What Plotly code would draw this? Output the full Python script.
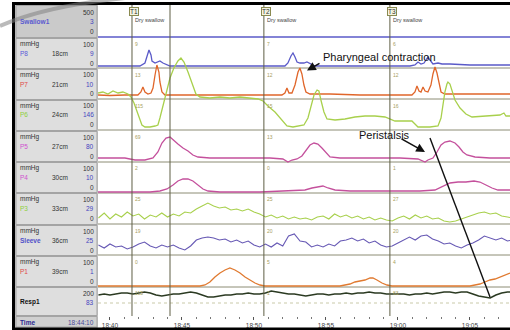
import numpy as np
import pandas as pd
import plotly.graph_objects as go

# ---------------- data: time in seconds (18:40 = 1120 s), pressure in mmHg ----------------
T_SW = [1119.17, 1147.78]
SWALLOW1 = [0, 0]

T_P8 = [1119.17, 1122.08, 1122.43, 1122.57, 1122.71, 1122.85, 1122.92, 1123.13, 1123.33, 1123.47,
        1123.68, 1123.96, 1124.17, 1132.15, 1132.36, 1132.57, 1132.71, 1132.85, 1132.99, 1133.19,
        1133.47, 1133.68, 1133.96, 1134.24, 1140.83, 1141.18, 1141.39, 1141.60, 1141.81, 1141.94,
        1142.08, 1142.22, 1142.43, 1142.78, 1143.06, 1143.61, 1145.00, 1147.78]
P8 = [0, 0, 12, 40, 64, 44, 20, 12, 16, 20, 12, 4, 0, 0, 12, 40, 52, 36, 16, 12,
      12, 16, 8, 0, 0, 4, 16, 8, 12, 24, 36, 24, 8, 12, 8, 8, 4, 4]

T_P7 = [1119.17, 1120.00, 1121.04, 1121.94, 1122.15, 1122.29, 1122.43, 1122.64, 1122.85, 1122.99,
        1123.13, 1123.26, 1123.40, 1123.47, 1123.61, 1123.82, 1124.51, 1126.25, 1128.33, 1130.42,
        1131.94, 1132.15, 1132.29, 1132.43, 1132.64, 1132.85, 1133.06, 1133.19, 1133.33, 1133.47,
        1133.61, 1133.89, 1135.28, 1137.36, 1139.44, 1140.97, 1141.18, 1141.32, 1141.46, 1141.60,
        1141.74, 1141.88, 1142.08, 1142.29, 1142.43, 1142.57, 1142.71, 1142.85, 1142.99, 1143.26,
        1145.69, 1147.78]
P7 = [4, 2, 4, 4, 16, 36, 16, 8, 12, 32, 84, 124, 96, 56, 16, 4, 4, 4, 2, 4,
      4, 12, 32, 12, 12, 44, 96, 112, 88, 44, 16, 8, 8, 4, 4, 4, 16, 40, 20, 16,
      36, 20, 16, 44, 88, 116, 92, 48, 16, 8, 8, 8]

T_P6 = [1119.17, 1119.51, 1119.86, 1120.21, 1120.56, 1120.90, 1121.25, 1121.46, 1121.67, 1121.88,
        1122.08, 1122.22, 1122.43, 1122.78, 1123.13, 1123.33, 1123.47, 1123.61, 1123.75, 1123.96,
        1124.17, 1124.44, 1124.72, 1124.93, 1125.14, 1125.42, 1125.69, 1125.97, 1126.25, 1126.94,
        1127.64, 1128.33, 1129.03, 1129.72, 1130.28, 1130.63, 1130.97, 1131.46, 1131.94, 1132.29,
        1132.71, 1133.19, 1133.47, 1133.75, 1133.96, 1134.17, 1134.38, 1134.51, 1134.65, 1134.86,
        1135.07, 1135.63, 1136.32, 1137.01, 1137.71, 1138.40, 1139.10, 1139.44, 1139.79, 1140.49,
        1140.97, 1141.18, 1141.39, 1142.22, 1142.78, 1142.99, 1143.13, 1143.26, 1143.40, 1143.47,
        1143.61, 1143.75, 1143.96, 1144.31, 1144.72, 1145.14, 1146.39, 1147.08, 1147.36, 1147.50,
        1147.78]
P6 = [136, 140, 132, 144, 136, 140, 132, 120, 96, 60, 28, 8, 0, 0, 4, 8, 36, 68, 108, 156,
      196, 236, 264, 276, 260, 220, 172, 132, 120, 116, 120, 116, 120, 116, 112, 104, 84, 60, 28, 4,
      0, 4, 8, 36, 88, 128, 148, 144, 108, 60, 32, 28, 32, 40, 44, 44, 40, 32, 24, 24,
      24, 12, 0, 0, 4, 36, 88, 140, 172, 180, 172, 148, 108, 76, 52, 40, 44, 48, 56, 44, 44]

T_P5 = [1119.17, 1120.00, 1121.04, 1121.74, 1122.43, 1122.99, 1123.33, 1123.61, 1123.89, 1124.17,
        1124.44, 1124.72, 1125.07, 1125.42, 1125.76, 1126.11, 1126.94, 1129.03, 1131.11, 1132.01,
        1132.36, 1132.64, 1132.99, 1133.33, 1133.61, 1133.89, 1134.17, 1134.44, 1134.72, 1135.00,
        1135.28, 1135.97, 1138.06, 1140.14, 1141.39, 1141.67, 1141.88, 1142.08, 1142.43, 1142.71,
        1142.99, 1143.26, 1143.61, 1143.96, 1144.24, 1144.51, 1144.79, 1145.35, 1146.39, 1147.78]
P5 = [0, 0, 0, -8, -8, 0, 24, 60, 80, 84, 72, 56, 40, 28, 12, 4, 0, 0, 0, -4,
      -16, -8, -4, 8, 32, 52, 60, 56, 40, 20, 4, 0, 0, 0, -4, -12, -16, -8, 0, 24,
      52, 64, 68, 60, 44, 24, 12, 4, 0, 0]

T_P4 = [1119.17, 1120.69, 1122.78, 1123.47, 1123.96, 1124.38, 1124.72, 1125.07, 1125.42, 1125.76,
        1126.11, 1126.46, 1126.81, 1127.64, 1130.42, 1132.50, 1133.54, 1134.03, 1134.44, 1134.79,
        1135.14, 1135.63, 1136.67, 1138.75, 1141.53, 1142.57, 1143.13, 1143.61, 1144.17, 1144.72,
        1145.28, 1145.69, 1146.11, 1146.53, 1146.94, 1147.78]
P4 = [0, 0, 0, 4, 12, 28, 44, 52, 52, 44, 28, 12, 4, 0, 0, 4, 8, 16, 20, 24,
      16, 8, 4, 4, 4, 8, 24, 36, 40, 40, 44, 40, 28, 16, 8, 8]

T_GRID = [1119.2, 1119.6, 1120.0, 1120.4, 1120.8, 1121.2, 1121.6, 1122.0, 1122.4, 1122.8,
          1123.2, 1123.6, 1124.0, 1124.4, 1124.8, 1125.2, 1125.6, 1126.0, 1126.4, 1126.8,
          1127.2, 1127.6, 1128.0, 1128.4, 1128.8, 1129.2, 1129.6, 1130.0, 1130.4, 1130.8,
          1131.2, 1131.6, 1132.0, 1132.4, 1132.8, 1133.2, 1133.6, 1134.0, 1134.4, 1134.8,
          1135.2, 1135.6, 1136.0, 1136.4, 1136.8, 1137.2, 1137.6, 1138.0, 1138.4, 1138.8,
          1139.2, 1139.6, 1140.0, 1140.4, 1140.8, 1141.2, 1141.6, 1142.0, 1142.4, 1142.8,
          1143.2, 1143.6, 1144.0, 1144.4, 1144.8, 1145.2, 1145.6, 1146.0, 1146.4, 1146.8,
          1147.2, 1147.6, 1148.0]
P3 = [24, 44, 20, 40, 28, 48, 32, 40, 20, 36, 28, 44, 28, 40, 32, 48, 44, 60, 72, 84,
      72, 64, 68, 56, 60, 52, 60, 48, 40, 28, 36, 24, 32, 20, 28, 20, 24, 16, 28, 32,
      20, 40, 28, 36, 24, 32, 20, 28, 16, 24, 16, 12, 24, 32, 20, 36, 24, 32, 20, 24,
      12, 8, 12, 20, 28, 36, 44, 48, 40, 44, 32, 28, 24]
SLEEVE = [32, 20, 36, 24, 28, 16, 24, 36, 44, 28, 20, 32, 24, 32, 20, 12, 28, 52, 60, 64,
          60, 52, 56, 44, 52, 40, 48, 32, 24, 36, 24, 40, 28, 68, 76, 48, 44, 24, 32, 24,
          36, 28, 48, 52, 60, 48, 56, 40, 48, 32, 24, 28, 40, 52, 64, 52, 68, 72, 56, 48,
          36, 40, 28, 20, 32, 40, 52, 68, 60, 52, 60, 48, 52]

T_P1 = [1119.17, 1126.25, 1126.60, 1126.94, 1127.29, 1127.64, 1127.99, 1128.33, 1128.68, 1129.03,
        1129.38, 1129.72, 1130.07, 1130.42, 1130.76, 1135.97, 1136.32, 1136.67, 1137.01, 1137.36,
        1137.71, 1138.06, 1138.26, 1138.54, 1138.89, 1139.24, 1139.58, 1145.00, 1145.35, 1145.69,
        1146.04, 1146.39, 1146.74, 1147.08, 1147.43, 1147.78]
P1 = [0, 0, 4, 16, 36, 52, 64, 72, 64, 52, 36, 24, 12, 4, 0, 0, 4, 8, 16, 20,
      24, 32, 32, 24, 12, 4, 0, 0, 4, 8, 16, 24, 28, 36, 44, 52]

RESP1 = [84, 88, 84, 88, 92, 92, 88, 92, 96, 92, 84, 80, 84, 88, 88, 92, 96, 92, 84, 76,
         76, 80, 84, 84, 88, 88, 92, 88, 88, 92, 100, 96, 92, 88, 88, 84, 80, 84, 88, 88,
         84, 88, 88, 92, 88, 92, 92, 96, 92, 92, 88, 88, 88, 88, 84, 88, 88, 92, 88, 92,
         96, 96, 92, 96, 96, 88, 80, 76, 72, 84, 92, 96, 96]

EVENT_T = [1121.53, 1124.17, 1130.69, 1139.44]
EVENT_NAMES = ["T1", "", "T2", "T3"]
EVENT_TEXT = ["Dry swallow", "", "Dry swallow", "Dry swallow"]
EVENT_VALUES = [["9", "13", "115", "69", "2", "25", "19", "0", "115"],
                [],
                ["7", "12", "15", "13", "0", "25", "20", "5", "1"],
                ["6", "12", "16", "", "1", "27", "20", "4", "83"]]

CH_NAMES = ["Swallow1", "P8", "P7", "P6", "P5", "P4", "P3", "Sleeve", "P1", "Resp1"]
CH_CM = ["", "18cm", "21cm", "24cm", "27cm", "30cm", "33cm", "36cm", "39cm", ""]
CH_MAX = ["500", "100", "100", "100", "100", "100", "100", "100", "100", "200"]
CH_NOW = ["3", "9", "10", "146", "80", "10", "29", "25", "1", "83"]
TIME_START = "18:44:10"

# ---------------- layout helpers (pixels -> paper) ----------------
W, H = 510, 330
PX0, PX1, PY0, PY1 = 98, 510, 4, 316


def xp(x):
    return (x - PX0) / (PX1 - PX0)


def yp(y):
    return (PY1 - y) / (PY1 - PY0)


def ts(sec):
    return pd.to_datetime(np.asarray(sec, dtype=float) * 1000.0, unit="ms")


def ts1(sec):
    return str(pd.Timestamp(float(sec) * 1000.0, unit="ms"))


K = 4.0  # mmHg per pixel
channels = [
    (T_SW, SWALLOW1, "#5a5ac8", 1.3, 37),
    (T_P8, P8, "#5a5ac8", 1.3, 66),
    (T_P7, P7, "#e0662a", 1.3, 96),
    (T_P6, P6, "#a8d04c", 1.3, 127),
    (T_P5, P5, "#c4509c", 1.3, 158),
    (T_P4, P4, "#c4509c", 1.3, 192),
    (T_GRID, P3, "#a8d04c", 1.1, 224),
    (T_GRID, SLEEVE, "#6658b4", 1.1, 253),
    (T_P1, P1, "#e07a30", 1.3, 286),
    (T_GRID, RESP1, "#2b3a22", 1.6, 316),
]

fig = go.Figure()
layout_axes = {}
for i, (tt, vv, col, lw, base) in enumerate(channels):
    name = "y" if i == 0 else f"y{i+1}"
    axkey = "yaxis" if i == 0 else f"yaxis{i+1}"
    fig.add_trace(go.Scatter(x=ts(tt), y=vv, mode="lines", yaxis=name,
                             line=dict(color=col, width=lw), hoverinfo="skip",
                             showlegend=False))
    ax = dict(domain=[0, 1], range=[-(PY1 - base) * K, (base - PY0) * K],
              visible=False, fixedrange=True)
    if i > 0:
        ax["overlaying"] = "y"
    layout_axes[axkey] = ax

shapes = []
annos = []
FONT = "Arial"

# row separators in chart area
for y in [68, 99, 130, 162, 193, 224, 255, 287]:
    shapes.append(dict(type="line", xref="paper", yref="paper", x0=0, x1=1, y0=yp(y), y1=yp(y),
                       line=dict(color="#8c8c74", width=1), layer="below"))
shapes.append(dict(type="line", xref="paper", yref="paper", x0=0, x1=1, y0=yp(303), y1=yp(303),
                   line=dict(color="#c9c9a8", width=1, dash="dot"), layer="below"))

# event lines
for t in EVENT_T:
    shapes.append(dict(type="line", xref="x", yref="paper", x0=ts1(t), x1=ts1(t), y0=0, y1=1,
                       line=dict(color="#5e5e44", width=1), layer="above"))

row_tops = [38, 69, 100, 131, 162, 193, 225, 256, 287]
for t, nm, txt, vals in zip(EVENT_T, EVENT_NAMES, EVENT_TEXT, EVENT_VALUES):
    if nm:
        annos.append(dict(x=ts1(t), xref="x", y=yp(11), yref="paper", text=nm, showarrow=False,
                          xanchor="center", yanchor="middle", xshift=2,
                          font=dict(family=FONT, size=6.5, color="#333"),
                          bordercolor="#8a8a50", borderwidth=1, borderpad=0, bgcolor="#f4f4e0"))
        annos.append(dict(x=ts1(t), xref="x", y=yp(19.5), yref="paper", text=txt, showarrow=False,
                          xanchor="left", yanchor="middle", xshift=1,
                          font=dict(family=FONT, size=5.5, color="#444")))
    for v, top in zip(vals, row_tops):
        if not v:
            continue
        annos.append(dict(x=ts1(t), xref="x", y=yp(top + 6), yref="paper", text=v, showarrow=False,
                          xanchor="left", yanchor="middle", xshift=1,
                          font=dict(family=FONT, size=5, color="#a8a060")))

# ---- left label panel ----
panel_rows = [(5, 38), (38, 69), (69, 100), (100, 131), (131, 162), (162, 193),
              (193, 225), (225, 256), (256, 287), (287, 316)]
shapes.append(dict(type="rect", xref="paper", yref="paper", x0=xp(15), x1=xp(98), y0=yp(330), y1=yp(4),
                   fillcolor="#c8c8c8", line=dict(width=0), layer="above"))
for i, (a, b) in enumerate(panel_rows):
    fill = "#cacaca" if i == 0 else "#dedede"
    shapes.append(dict(type="rect", xref="paper", yref="paper", x0=xp(16), x1=xp(97),
                       y0=yp(b - 0.5), y1=yp(a + 0.5), fillcolor=fill,
                       line=dict(color="#a4a4a4", width=1), layer="above"))
shapes.append(dict(type="rect", xref="paper", yref="paper", x0=xp(16), x1=xp(97),
                   y0=yp(327), y1=yp(316.5), fillcolor="#d0d0d0",
                   line=dict(color="#a4a4a4", width=1), layer="above"))

name_cols = ["#5a5ad0", "#5a5ad8", "#e04848", "#8ed040", "#d050d0", "#d050d0",
             "#8ed040", "#5050c8", "#e04848", "#111111"]
for i, (a, b) in enumerate(panel_rows):
    if i == 0:
        ys = (12, 21, 31)
    elif i == 9:
        ys = (293, 302, None)
    else:
        ys = (a + 6, a + 15, a + 25)
        annos.append(dict(x=xp(18), y=yp(a + 6), xref="paper", yref="paper", text="mmHg",
                          showarrow=False, xanchor="left", yanchor="middle",
                          font=dict(family=FONT, size=6.5, color="#333")))
        annos.append(dict(x=xp(60), y=yp(ys[1]), xref="paper", yref="paper", text=CH_CM[i],
                          showarrow=False, xanchor="center", yanchor="middle",
                          font=dict(family=FONT, size=6.5, color="#333")))
    bold = i in (0, 7, 9)
    nm = f"<b>{CH_NAMES[i]}</b>" if bold else CH_NAMES[i]
    annos.append(dict(x=xp(18), y=yp(ys[1]), xref="paper", yref="paper", text=nm,
                      showarrow=False, xanchor="left", yanchor="middle",
                      font=dict(family=FONT, size=6.5, color=name_cols[i])))
    annos.append(dict(x=xp(95.5), y=yp(ys[0]), xref="paper", yref="paper", text=CH_MAX[i],
                      showarrow=False, xanchor="right", yanchor="middle",
                      font=dict(family=FONT, size=6.5, color="#333")))
    annos.append(dict(x=xp(95.5), y=yp(ys[1]), xref="paper", yref="paper", text=CH_NOW[i],
                      showarrow=False, xanchor="right", yanchor="middle",
                      font=dict(family=FONT, size=6.5, color="#4545c0")))
    if ys[2] is not None:
        annos.append(dict(x=xp(95.5), y=yp(ys[2]), xref="paper", yref="paper", text="0",
                          showarrow=False, xanchor="right", yanchor="middle",
                          font=dict(family=FONT, size=6.5, color="#333")))

annos.append(dict(x=xp(18), y=yp(322), xref="paper", yref="paper", text="<b>Time</b>",
                  showarrow=False, xanchor="left", yanchor="middle",
                  font=dict(family=FONT, size=6.5, color="#2a2a90")))
annos.append(dict(x=xp(95.5), y=yp(322), xref="paper", yref="paper", text=TIME_START,
                  showarrow=False, xanchor="right", yanchor="middle",
                  font=dict(family=FONT, size=6.5, color="#4a4a9a")))

# black frame
shapes.append(dict(type="rect", xref="paper", yref="paper", x0=xp(12), x1=xp(15), y0=yp(330), y1=yp(2),
                   fillcolor="#000", line=dict(width=0), layer="above"))
shapes.append(dict(type="rect", xref="paper", yref="paper", x0=xp(12), x1=xp(511), y0=yp(5), y1=yp(2),
                   fillcolor="#000", line=dict(width=0), layer="above"))
shapes.append(dict(type="rect", xref="paper", yref="paper", x0=xp(12), x1=xp(511), y0=yp(331), y1=yp(327.5),
                   fillcolor="#000", line=dict(width=0), layer="above"))

# page-curl arc (top-left)
shapes.append(dict(type="path", xref="paper", yref="paper",
                   path=f"M {xp(0)},{yp(26)} Q {xp(45)},{yp(6)} {xp(125)},{yp(-2)}",
                   line=dict(color="rgba(130,130,130,0.55)", width=4), layer="above"))

# commentary
annos.append(dict(x=xp(321), y=yp(57), xref="paper", yref="paper", text="Pharyngeal contraction",
                  showarrow=False, xanchor="left", yanchor="middle",
                  font=dict(family=FONT, size=11, color="#111")))
annos.append(dict(x=xp(307), y=yp(70.5), xref="paper", yref="paper", text="", showarrow=True,
                  ax=14, ay=-8, arrowhead=2, arrowsize=1.1, arrowwidth=1.6, arrowcolor="#111"))
annos.append(dict(x=xp(357), y=yp(135), xref="paper", yref="paper", text="Peristalsis",
                  showarrow=False, xanchor="left", yanchor="middle",
                  font=dict(family=FONT, size=11, color="#111")))
annos.append(dict(x=xp(425), y=yp(152), xref="paper", yref="paper", text="", showarrow=True,
                  ax=-25, ay=-14, arrowhead=2, arrowsize=1.1, arrowwidth=1.6, arrowcolor="#111"))
shapes.append(dict(type="line", xref="paper", yref="paper", x0=xp(430), y0=yp(138), x1=xp(490), y1=yp(297),
                   line=dict(color="#111", width=1.4), layer="above"))

fig.update_layout(
    width=W, height=H,
    margin=dict(l=PX0, r=W - PX1, t=PY0, b=H - PY1, pad=0),
    paper_bgcolor="white", plot_bgcolor="white",
    showlegend=False,
    xaxis=dict(type="date", range=[ts1(1119.17), ts1(1147.78)], tickformat="%M:%S",
               tick0=ts1(1120), dtick=5000, ticks="outside", ticklen=3, tickcolor="#555",
               tickfont=dict(family=FONT, size=6.5, color="#444"), showgrid=False,
               zeroline=False, showline=False, fixedrange=True,
               minor=dict(dtick=1000, ticks="outside", ticklen=2, tickcolor="#777", showgrid=False)),
    shapes=shapes, annotations=annos,
    **layout_axes,
)

fig.write_html("out.html", config={"displayModeBar": False, "staticPlot": True},
               post_script="document.body.style.margin='0';document.body.style.overflow='hidden';")
